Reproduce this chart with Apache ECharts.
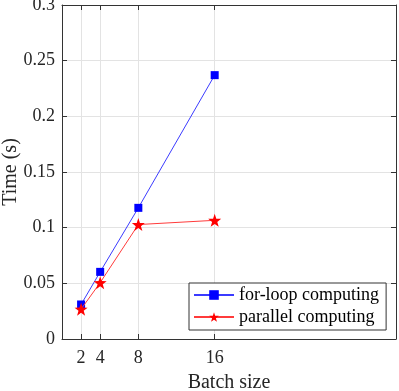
<!DOCTYPE html>
<html>
<head>
<meta charset="utf-8">
<script src="https://cdn.jsdelivr.net/npm/echarts@6/dist/echarts.min.js"></script>
<style>
  html, body { margin: 0; padding: 0; background: #fff; }
  #main { width: 399px; height: 391px; }
</style>
</head>
<body>
<div id="main"></div>
<script>
var batchSizes = [2, 4, 8, 16];
var forLoopTime = [0.031, 0.0603, 0.1178, 0.237];
var parallelTime = [0.0268, 0.0506, 0.1028, 0.1066];
var yTicks = [0, 0.05, 0.1, 0.15, 0.2, 0.25, 0.3];

var font = 'Liberation Serif';
var axisColor = '#333333';
var starPath = 'path://M0,-10 L2.35,-3.24 L9.51,-3.09 L3.8,1.24 L5.88,8.09 L0,4 L-5.88,8.09 L-3.8,1.24 L-9.51,-3.09 L-2.35,-3.24 Z';

function pairs(xs, ys) {
    var out = [];
    for (var i = 0; i < xs.length; i++) out.push([xs[i], ys[i]]);
    return out;
}

var myChart = echarts.init(document.getElementById('main'));

var option = {
    animation: false,
    textStyle: { fontFamily: font },
    grid: { left: 62, right: 3, top: 5, bottom: 52, containLabel: false, outerBoundsMode: 'none' },
    legend: {
        orient: 'vertical',
        left: 189,
        top: 283,
        backgroundColor: '#fff',
        borderColor: axisColor,
        borderWidth: 1,
        borderRadius: 0,
        padding: [3, 7, 4, 4],
        itemGap: 4,
        itemWidth: 40,
        itemHeight: 12,
        textStyle: { fontFamily: font, fontSize: 18, color: '#000' },
        data: ['for-loop computing', 'parallel computing']
    },
    xAxis: [{
        type: 'value',
        min: 0,
        max: 35,
        name: 'Batch size',
        nameLocation: 'middle',
        nameGap: 34,
        nameMoveOverlap: false,
        nameTextStyle: { fontFamily: font, fontSize: 20, color: '#262626' },
        axisLine: { onZero: false, lineStyle: { color: axisColor } },
        axisTick: { inside: true, length: 5, customValues: batchSizes, lineStyle: { color: axisColor } },
        axisLabel: { customValues: batchSizes, margin: 10, fontFamily: font, fontSize: 18, color: '#262626' },
        splitLine: { show: true, lineStyle: { color: '#e3e3e3' } }
    }, {
        type: 'value',
        position: 'top',
        min: 0,
        max: 35,
        axisLine: { onZero: false, lineStyle: { color: axisColor } },
        axisTick: { inside: true, length: 5, customValues: batchSizes, lineStyle: { color: axisColor } },
        axisLabel: { show: false },
        splitLine: { show: false }
    }],
    yAxis: [{
        type: 'value',
        min: 0,
        max: 0.3,
        interval: 0.05,
        name: 'Time (s)',
        nameLocation: 'middle',
        nameGap: 41,
        nameMoveOverlap: false,
        nameTextStyle: { fontFamily: font, fontSize: 20, color: '#262626' },
        axisLine: { show: true, onZero: false, lineStyle: { color: axisColor } },
        axisTick: { show: true, inside: true, length: 5, lineStyle: { color: axisColor } },
        axisLabel: {
            margin: 7, fontFamily: font, fontSize: 18, color: '#262626',
            formatter: function (v) {
                var r = +v.toFixed(2);
                return yTicks.indexOf(r) >= 0 ? String(r) : '';
            }
        },
        splitLine: { show: true, lineStyle: { color: '#e3e3e3' } }
    }, {
        type: 'value',
        position: 'right',
        min: 0,
        max: 0.3,
        interval: 0.05,
        axisLine: { show: true, onZero: false, lineStyle: { color: axisColor } },
        axisTick: { show: true, inside: true, length: 5, lineStyle: { color: axisColor } },
        axisLabel: { show: false },
        splitLine: { show: false }
    }],
    series: [{
        name: 'for-loop computing',
        type: 'line',
        data: pairs(batchSizes, forLoopTime),
        symbol: 'rect',
        symbolSize: 8,
        itemStyle: { color: '#0000ff' },
        lineStyle: { color: '#3b3bff', width: 1 },
        z: 3
    }, {
        name: 'parallel computing',
        type: 'line',
        data: pairs(batchSizes, parallelTime),
        symbol: starPath,
        symbolSize: 13,
        itemStyle: { color: '#ff0000' },
        lineStyle: { color: '#ff3b3b', width: 1 },
        z: 4
    }]
};

myChart.setOption(option);
</script>
</body>
</html>
